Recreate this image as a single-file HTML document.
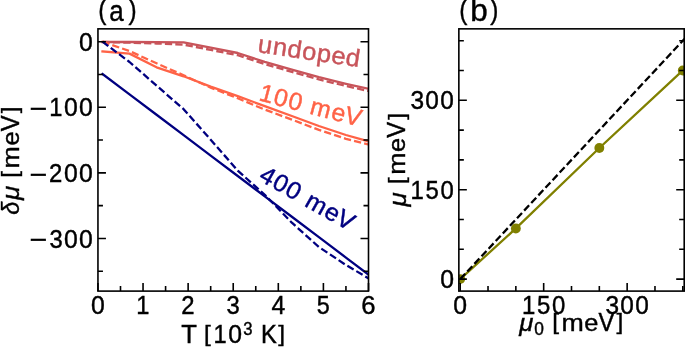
<!DOCTYPE html>
<html><head><meta charset="utf-8"><title>Chemical potential shift vs temperature</title><style>
html,body{margin:0;padding:0;background:#fff;width:685px;height:347px;overflow:hidden}
svg{display:block;will-change:transform}
text{font-family:"Liberation Sans", sans-serif;fill:#000;stroke:#000;stroke-width:0.4px;font-kerning:none;white-space:pre}
</style></head><body>
<svg width="685" height="347" viewBox="0 0 685 347">
<defs>
<clipPath id="ca"><rect x="97.95" y="28.85" width="270.55" height="262.25"/></clipPath>
<clipPath id="cb"><rect x="458.85" y="28.85" width="225.35" height="262.25"/></clipPath>
</defs>
<rect width="685" height="347" fill="#fff"/>

<g clip-path="url(#ca)" fill="none" stroke-width="2.3" stroke-linejoin="round">
<polyline points="102.46,42.00 129.51,42.00 156.57,42.10 183.62,42.40 210.68,47.70 237.73,53.00 264.78,61.90 291.84,69.70 318.89,77.20 345.94,83.80 373.00,89.80" stroke="#c8545a" stroke-linecap="square"/>
<polyline points="102.46,42.00 129.51,42.70 156.57,43.50 183.62,44.60 210.68,49.90 237.73,55.20 264.78,64.10 291.84,71.90 318.89,79.40 345.94,86.00 373.00,92.00" stroke="#c8545a" stroke-dasharray="7.27 3.14"/>
<polyline points="102.46,51.40 129.51,53.60 156.57,67.30 183.62,76.30 210.68,86.60 237.73,96.20 264.78,106.10 291.84,116.00 318.89,126.00 345.94,135.00 373.00,142.60" stroke="#ff6347" stroke-linecap="square"/>
<polyline points="102.46,41.70 129.51,51.10 156.57,63.30 183.62,75.30 210.68,87.60 237.73,98.30 264.78,109.60 291.84,119.60 318.89,129.90 345.94,138.80 373.00,145.60" stroke="#ff6347" stroke-dasharray="7.27 3.14"/>
<polyline points="102.46,74.00 129.51,94.39 156.57,114.79 183.62,135.19 210.68,155.59 237.73,175.99 264.78,196.39 291.84,216.79 318.89,237.19 345.94,257.58 373.00,277.98" stroke="#000080" stroke-linecap="square"/>
<polyline points="102.46,41.70 129.51,62.00 156.57,85.60 183.62,109.20 210.68,139.70 237.73,170.60 264.78,194.80 291.84,222.70 318.89,247.00 345.94,265.00 373.00,281.00" stroke="#000080" stroke-dasharray="7.27 3.14"/>
</g>
<g clip-path="url(#cb)">
<polyline fill="none" points="460.20,279.10 515.85,228.44 599.33,147.98 682.80,70.50" stroke="#808000" stroke-width="2.3" stroke-linecap="square"/>
<circle cx="460.20" cy="279.10" r="4.95" fill="#808000"/>
<circle cx="515.85" cy="228.44" r="4.95" fill="#808000"/>
<circle cx="599.33" cy="147.98" r="4.95" fill="#808000"/>
<circle cx="682.80" cy="70.50" r="4.95" fill="#808000"/>
<line x1="460.20" y1="279.10" x2="693.93" y2="28.78" stroke="#000" stroke-width="2.3" stroke-dasharray="7.27 3.14"/>
</g>
<path d="M97.95,291.1v-8.0M143.04,291.1v-8.0M188.13,291.1v-8.0M233.22,291.1v-8.0M278.31,291.1v-8.0M323.40,291.1v-8.0M368.49,291.1v-8.0M120.50,291.1v-5.0M165.59,291.1v-5.0M210.68,291.1v-5.0M255.76,291.1v-5.0M300.86,291.1v-5.0M345.94,291.1v-5.0M97.95,41.70h8.0M368.5,41.70h-8.0M97.95,107.28h8.0M368.5,107.28h-8.0M97.95,172.86h8.0M368.5,172.86h-8.0M97.95,238.44h8.0M368.5,238.44h-8.0M97.95,74.49h5.0M368.5,74.49h-5.0M97.95,140.07h5.0M368.5,140.07h-5.0M97.95,205.65h5.0M368.5,205.65h-5.0M97.95,271.23h5.0M368.5,271.23h-5.0M460.20,291.1v-8.0M458.85,279.10h8.0M684.2,279.10h-8.0M543.67,291.1v-8.0M458.85,189.70h8.0M684.2,189.70h-8.0M627.15,291.1v-8.0M458.85,100.30h8.0M684.2,100.30h-8.0M488.02,291.1v-5.0M458.85,249.30h5.0M684.2,249.30h-5.0M515.85,291.1v-5.0M458.85,219.50h5.0M684.2,219.50h-5.0M571.50,291.1v-5.0M458.85,159.90h5.0M684.2,159.90h-5.0M599.33,291.1v-5.0M458.85,130.10h5.0M684.2,130.10h-5.0M654.98,291.1v-5.0M458.85,70.50h5.0M684.2,70.50h-5.0M682.80,291.1v-5.0M458.85,40.70h5.0M684.2,40.70h-5.0" stroke="#000" stroke-width="1.6" fill="none"/>
<rect x="97.95" y="28.85" width="270.55" height="262.25" fill="none" stroke="#000" stroke-width="1.6"/>
<rect x="458.85" y="28.85" width="225.35" height="262.25" fill="none" stroke="#000" stroke-width="1.6"/>
<g transform="translate(78.40,50.75)" font-size="23.50"><text transform="translate(0.58,0.09) scale(1.0541,1.0683)">0</text></g>
<g transform="translate(28.81,116.33)" font-size="23.50"><text transform="translate(1.00,1.73) scale(1.2884,1.1644)">−</text><text transform="translate(20.47,0.00) scale(1.0068,1.0596)">1</text><text transform="translate(35.22,0.09) scale(1.0541,1.0683)">0</text><text transform="translate(50.17,0.09) scale(1.0541,1.0683)">0</text></g>
<g transform="translate(28.81,181.91)" font-size="23.50"><text transform="translate(1.00,1.73) scale(1.2884,1.1644)">−</text><text transform="translate(20.21,0.00) scale(1.0161,1.0629)">2</text><text transform="translate(35.22,0.09) scale(1.0541,1.0683)">0</text><text transform="translate(50.17,0.09) scale(1.0541,1.0683)">0</text></g>
<g transform="translate(28.81,247.49)" font-size="23.50"><text transform="translate(1.00,1.73) scale(1.2884,1.1644)">−</text><text transform="translate(20.57,0.09) scale(1.0124,1.0683)">3</text><text transform="translate(35.22,0.09) scale(1.0541,1.0683)">0</text><text transform="translate(50.17,0.09) scale(1.0541,1.0683)">0</text></g>
<text transform="translate(439.65,288.15) scale(1.0541,1.0629)" font-size="23.50"><tspan x="0.55" y="0.00">0</tspan></text>
<text transform="translate(409.75,198.75) scale(1.0191,1.0607)" font-size="23.50"><tspan x="0.68 15.38 30.14" y="0.00">150</tspan></text>
<text transform="translate(409.75,109.35) scale(1.0403,1.0629)" font-size="23.50"><tspan x="0.68 15.02 29.39" y="0.00">300</tspan></text>
<text transform="translate(90.47,313.70) scale(1.0541,1.0629)" font-size="23.50"><tspan x="0.55" y="0.00">0</tspan></text>
<text transform="translate(135.56,313.70) scale(1.0068,1.0596)" font-size="23.50"><tspan x="0.77" y="0.00">1</tspan></text>
<text transform="translate(180.65,313.70) scale(1.0161,1.0629)" font-size="23.50"><tspan x="0.51" y="0.00">2</tspan></text>
<text transform="translate(225.74,313.70) scale(1.0124,1.0629)" font-size="23.50"><tspan x="0.87" y="0.00">3</tspan></text>
<text transform="translate(270.83,313.70) scale(1.0543,1.0596)" font-size="23.50"><tspan x="0.55" y="0.00">4</tspan></text>
<text transform="translate(315.92,313.70) scale(0.9949,1.0596)" font-size="23.50"><tspan x="0.88" y="0.00">5</tspan></text>
<text transform="translate(361.01,313.70) scale(1.0910,1.0629)" font-size="23.50"><tspan x="0.31" y="0.00">6</tspan></text>
<text transform="translate(452.72,313.50) scale(1.0541,1.0629)" font-size="23.50"><tspan x="0.55" y="0.00">0</tspan></text>
<text transform="translate(521.25,313.50) scale(1.0191,1.0607)" font-size="23.50"><tspan x="0.68 15.38 30.14" y="0.00">150</tspan></text>
<text transform="translate(604.72,313.50) scale(1.0403,1.0629)" font-size="23.50"><tspan x="0.68 15.02 29.39" y="0.00">300</tspan></text>
<g transform="translate(97.35,20.90)" font-size="28.90"><text transform="translate(0.97,-1.91) scale(0.8453,0.9560)">(</text><text transform="translate(11.91,0.11) scale(0.8992,1.0481)">a</text><text transform="translate(31.16,-1.91) scale(0.8453,0.9560)">)</text></g>
<g transform="translate(458.35,20.90)" font-size="28.90"><text transform="translate(0.97,-1.91) scale(0.8453,0.9560)">(</text><text transform="translate(11.87,0.11) scale(1.0879,1.0539)">b</text><text transform="translate(31.79,-1.91) scale(0.8453,0.9560)">)</text></g>
<g transform="translate(181.80,343.00)" font-size="23.50"><text transform="translate(-0.64,0.00) scale(1.0907,1.0596)">T</text><text transform="translate(22.10,-1.57) scale(1.0418,0.9565)">[</text><text transform="translate(31.77,0.00) scale(1.0068,1.0596)">1</text><text transform="translate(46.53,0.09) scale(1.0541,1.0683)">0</text><text transform="translate(61.51,-8.14) scale(1.0124,1.0683)" font-size="16.45">3</text><text transform="translate(79.19,0.00) scale(1.0085,1.0596)">K</text><text transform="translate(96.33,-1.57) scale(1.0418,0.9565)">]</text></g>
<g transform="translate(519.00,330.60)" font-size="23.50"><text transform="translate(0.23,0.16) scale(1.0945,1.0481)" font-style="italic">μ</text><text transform="translate(15.36,4.06) scale(1.0541,1.0683)" font-size="16.45">0</text><text transform="translate(33.16,-1.57) scale(1.0418,0.9565)">[</text><text transform="translate(42.41,0.00) scale(1.1394,1.0408)">m</text><text transform="translate(65.17,0.09) scale(1.0801,1.0481)">e</text><text transform="translate(79.48,0.00) scale(1.0148,1.0596)">V</text><text transform="translate(97.57,-1.57) scale(1.0418,0.9565)">]</text></g>
<g transform="translate(18.70,214.70) rotate(-90.000)" font-size="23.50"><text transform="translate(-0.09,0.10) scale(0.9937,1.0299)" font-style="italic">δ</text><text transform="translate(14.61,0.16) scale(1.0945,1.0481)" font-style="italic">μ</text><text transform="translate(37.07,-1.57) scale(1.0418,0.9565)">[</text><text transform="translate(46.32,0.00) scale(1.1394,1.0408)">m</text><text transform="translate(69.08,0.09) scale(1.0801,1.0481)">e</text><text transform="translate(83.40,0.00) scale(1.0148,1.0596)">V</text><text transform="translate(101.49,-1.57) scale(1.0418,0.9565)">]</text></g>
<g transform="translate(405.40,206.80) rotate(-90.000)" font-size="23.50"><text transform="translate(0.23,0.16) scale(1.0945,1.0481)" font-style="italic">μ</text><text transform="translate(22.70,-1.57) scale(1.0418,0.9565)">[</text><text transform="translate(31.95,0.00) scale(1.1394,1.0408)">m</text><text transform="translate(54.70,0.09) scale(1.0801,1.0481)">e</text><text transform="translate(69.02,0.00) scale(1.0148,1.0596)">V</text><text transform="translate(87.11,-1.57) scale(1.0418,0.9565)">]</text></g>
<text transform="translate(256.72,52.01) rotate(8.460) scale(1.0801,1.0459)" font-size="23.60" style="fill:#c8545a;stroke:#c8545a"><tspan x="0.31 14.26 27.94 41.69 55.44 69.01 82.50" y="0.00">undoped</tspan></text>
<text transform="translate(257.50,100.00) rotate(14.700) scale(1.0621,1.0545)" font-size="23.30" style="fill:#ff6347;stroke:#ff6347"><tspan x="0.37 14.45 28.41 41.87 49.88 70.53 83.44" y="0.00">100 meV</tspan></text>
<text transform="translate(257.40,179.50) rotate(29.500) scale(1.0682,1.0545)" font-size="23.30" style="fill:#000080;stroke:#000080"><tspan x="0.45 14.33 28.21 41.63 49.55 70.09 82.92" y="0.00">400 meV</tspan></text>
</svg></body></html>
